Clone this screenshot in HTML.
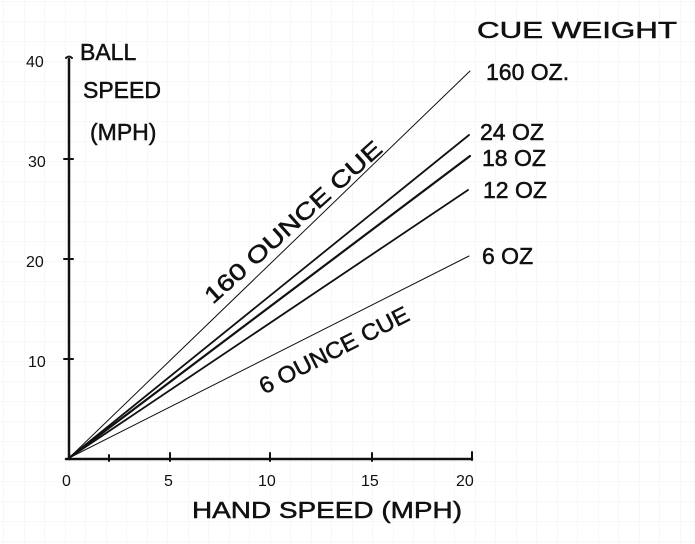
<!DOCTYPE html>
<html><head><style>
body{margin:0;background:#fff}
svg{display:block}
text{font-family:"Liberation Sans",sans-serif;fill:#111}
</style></head><body>
<svg width="695" height="544" viewBox="0 0 695 544" xmlns="http://www.w3.org/2000/svg">
<defs><pattern id="g" width="20.5" height="20" patternUnits="userSpaceOnUse" x="4" y="2"><path d="M20.5 0V20M0 20H20.5" stroke="#f1f1f1" stroke-width="1" fill="none"/></pattern></defs>
<rect width="695" height="544" fill="#fff"/>
<rect width="695" height="544" fill="url(#g)"/>
<g stroke="#111" fill="none" stroke-linecap="round">
<path d="M69 59V459" stroke-width="2.5"/>
<path d="M66 58q3-3 6 0" stroke-width="2"/>
<path d="M66 459H472" stroke-width="2.5"/>
<path d="M64 159h9M64 259h9M64 359h9" stroke-width="2"/>
<path d="M109 455v6M170 453v8M270 453v8M372 453v8M472 452v8" stroke-width="2"/>
<path d="M69 458L470 71" stroke-width="1"/>
<path d="M69 458L469 135" stroke-width="1.8"/>
<path d="M69 458L470 156" stroke-width="2.2"/>
<path d="M69 458L468 190" stroke-width="1.8"/>
<path d="M69 458L469 256" stroke-width="1"/>
</g>
<g font-size="16">
<text x="26" y="67">40</text><text x="28" y="167">30</text><text x="26" y="267">20</text><text x="28" y="367">10</text>
<text x="62" y="486">0</text><text x="164" y="486">5</text><text x="258" y="486">10</text><text x="361" y="486">15</text><text x="456" y="486">20</text>
</g>
<g font-size="23" stroke="#111" stroke-width="0.5">
<text x="80" y="60">BALL</text><text x="83" y="98">SPEED</text><text x="90" y="140">(MPH)</text>
<text x="192" y="518" textLength="270" lengthAdjust="spacingAndGlyphs">HAND SPEED (MPH)</text>
<text x="477" y="38" textLength="200" lengthAdjust="spacingAndGlyphs">CUE WEIGHT</text>
<text x="486" y="80">160 OZ.</text>
<text x="480" y="140">24 OZ</text>
<text x="482" y="166">18 OZ</text>
<text x="483" y="198">12 OZ</text>
<text x="482" y="264">6 OZ</text>
<text transform="translate(293,222) rotate(-42)" text-anchor="middle" textLength="230" lengthAdjust="spacingAndGlyphs" y="8">160 OUNCE CUE</text>
<text transform="translate(334,350) rotate(-27)" text-anchor="middle" textLength="165" lengthAdjust="spacingAndGlyphs" y="8">6 OUNCE CUE</text>
</g>
</svg>
</body></html>
